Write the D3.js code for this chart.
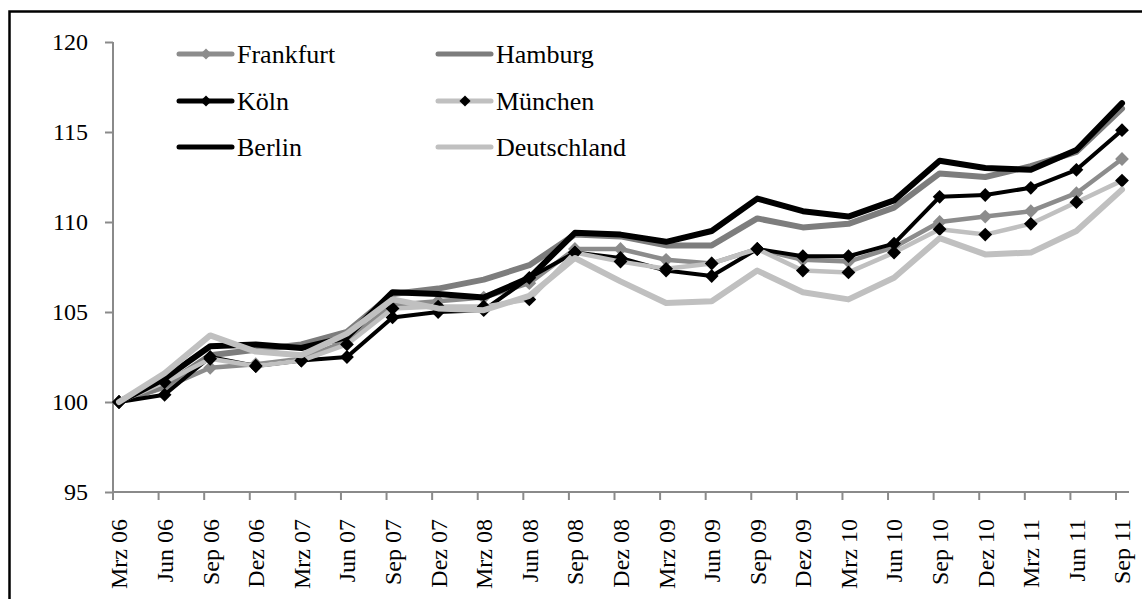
<!DOCTYPE html>
<html>
<head>
<meta charset="utf-8">
<script src="https://cdn.jsdelivr.net/npm/d3@7"></script>
<style>
  html, body { margin: 0; padding: 0; background: #fff; }
  svg { display: block; }
  text { font-family: "Liberation Serif", "Times New Roman", serif; fill: #000; }
</style>
</head>
<body>
<svg id="chart" width="1142" height="599"></svg>
<script>
const categories = ["Mrz 06","Jun 06","Sep 06","Dez 06","Mrz 07","Jun 07","Sep 07","Dez 07","Mrz 08","Jun 08","Sep 08","Dez 08","Mrz 09","Jun 09","Sep 09","Dez 09","Mrz 10","Jun 10","Sep 10","Dez 10","Mrz 11","Jun 11","Sep 11"];
const frankfurt   = [100, 100.8, 101.9, 102.1, 102.4, 103.4, 105.4, 105.6, 105.8, 106.6, 108.5, 108.5, 107.9, 107.7, 108.5, 107.9, 107.8, 108.6, 110.0, 110.3, 110.6, 111.6, 113.5];
const hamburg     = [100, 100.9, 102.6, 102.9, 103.2, 103.9, 106.0, 106.3, 106.8, 107.6, 109.3, 109.2, 108.7, 108.7, 110.2, 109.7, 109.9, 110.8, 112.7, 112.5, 113.1, 113.9, 116.3];
const koeln       = [100, 100.4, 102.5, 102.0, 102.3, 102.5, 104.7, 105.0, 105.1, 106.9, 108.3, 108.0, 107.3, 107.0, 108.5, 108.1, 108.1, 108.8, 111.4, 111.5, 111.9, 112.9, 115.1];
const muenchen    = [100, 101.1, 102.4, 102.0, 102.3, 103.2, 105.2, 105.3, 105.3, 105.7, 108.3, 107.8, 107.4, 107.7, 108.5, 107.3, 107.2, 108.3, 109.6, 109.3, 109.9, 111.1, 112.3];
const berlin      = [100, 101.3, 103.1, 103.2, 103.0, 103.6, 106.1, 106.0, 105.8, 106.9, 109.4, 109.3, 108.9, 109.5, 111.3, 110.6, 110.3, 111.2, 113.4, 113.0, 112.9, 114.0, 116.6];
const deutschland = [100, 101.6, 103.7, 102.8, 102.6, 103.8, 105.7, 105.2, 105.1, 105.9, 108.0, 106.7, 105.5, 105.6, 107.3, 106.1, 105.7, 106.9, 109.1, 108.2, 108.3, 109.5, 111.8];
const yTicks = [95, 100, 105, 110, 115, 120];

const series = [
  { name: "Frankfurt",   values: frankfurt,   stroke: "#8c8c8c", width: 4.5, marker: "#8c8c8c" },
  { name: "Hamburg",     values: hamburg,     stroke: "#7d7d7d", width: 6,   marker: null },
  { name: "Köln",        values: koeln,       stroke: "#000000", width: 4,   marker: "#000000" },
  { name: "München",     values: muenchen,    stroke: "#c0c0c0", width: 4.5, marker: "#000000" },
  { name: "Berlin",      values: berlin,      stroke: "#000000", width: 6,   marker: null },
  { name: "Deutschland", values: deutschland, stroke: "#c0c0c0", width: 6,   marker: null }
];

const svg = d3.select("#chart");

// outer frame
svg.append("rect")
  .attr("x", 9.5).attr("y", 11.5)
  .attr("width", 1160).attr("height", 620)
  .attr("fill", "none").attr("stroke", "#000").attr("stroke-width", 2.5);

const x = d3.scalePoint().domain(categories).range([119, 1122]);
const y = d3.scaleLinear().domain([95, 120]).range([492, 42]);
const axisColor = "#8a8a8a";

// y axis
const yAxis = svg.append("g")
  .attr("transform", "translate(113,0)")
  .call(d3.axisLeft(y).tickValues(yTicks).tickSize(8).tickPadding(17).tickFormat(d3.format("d")));
yAxis.select(".domain").attr("stroke", axisColor).attr("stroke-width", 2).attr("d", `M0,${y(120)}V${y(95)}`);
yAxis.selectAll(".tick line").attr("stroke", axisColor).attr("stroke-width", 2);
yAxis.selectAll(".tick text").attr("font-size", 24).attr("fill", "#000")
  .style("font-family", "'Liberation Serif', 'Times New Roman', serif");

// x axis
const xAxis = svg.append("g")
  .attr("transform", `translate(0,${y(95)})`)
  .call(d3.axisBottom(x).tickSize(8).tickSizeOuter(0));
xAxis.select(".domain").attr("stroke", axisColor).attr("stroke-width", 2).attr("d", `M113,0H1129`);
xAxis.selectAll(".tick line").attr("stroke", axisColor).attr("stroke-width", 2)
  .attr("x1", -6.5).attr("x2", -6.5);
xAxis.selectAll(".tick text")
  .attr("font-size", 24).attr("fill", "#000")
  .style("font-family", "'Liberation Serif', 'Times New Roman', serif")
  .attr("text-anchor", "end")
  .attr("transform", "rotate(-90)")
  .attr("x", -27).attr("y", 0).attr("dy", "0.33em");

// lines
const line = d3.line().x((d, i) => x(categories[i])).y(d => y(d));
const diamond = d3.symbol().type(d3.symbolSquare).size(95);

series.forEach(s => {
  const g = svg.append("g");
  g.append("path")
    .attr("d", line(s.values))
    .attr("fill", "none")
    .attr("stroke", s.stroke)
    .attr("stroke-width", s.width)
    .attr("stroke-linejoin", "round")
    .attr("stroke-linecap", "round");
  if (s.marker) {
    g.selectAll("path.m").data(s.values).enter().append("path")
      .attr("class", "m")
      .attr("d", diamond)
      .attr("fill", s.marker)
      .attr("transform", (d, i) => `translate(${x(categories[i])},${y(d)}) rotate(45)`);
  }
});

// legend
const legendPos = [
  { col: 0, row: 0 }, { col: 1, row: 0 },
  { col: 0, row: 1 }, { col: 1, row: 1 },
  { col: 0, row: 2 }, { col: 1, row: 2 }
];
const colX = [179, 438];
const rowY = [54, 101, 147];
const legendMarker = d3.symbol().type(d3.symbolSquare).size(62);
series.forEach((s, i) => {
  const p = legendPos[i];
  const lx = colX[p.col], ly = rowY[p.row];
  const g = svg.append("g").attr("class", "legend-item");
  g.append("line")
    .attr("x1", lx).attr("x2", lx + 53)
    .attr("y1", ly).attr("y2", ly)
    .attr("stroke", s.stroke)
    .attr("stroke-width", 5)
    .attr("stroke-linecap", "round");
  if (s.marker) {
    g.append("path").attr("d", legendMarker)
      .attr("fill", s.marker)
      .attr("transform", `translate(${lx + 27},${ly}) rotate(45)`);
  }
  g.append("text")
    .attr("x", lx + 58).attr("y", ly)
    .attr("dy", "0.33em")
    .attr("font-size", 26)
    .text(s.name);
});
</script>
</body>
</html>
